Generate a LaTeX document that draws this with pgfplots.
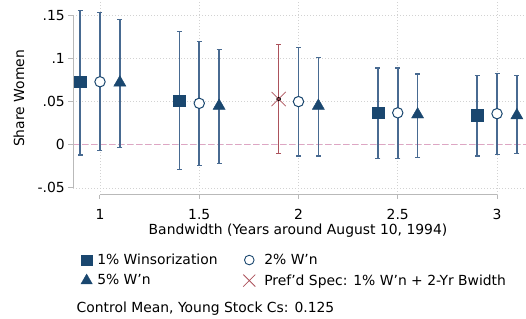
\documentclass[border=0pt]{standalone}
\usepackage{fontspec}
\setmainfont{DejaVu Sans}
\usepackage{pgfplots}
\usepackage{pgfplotstable}
\pgfplotsset{compat=1.18}
\definecolor{navy}{RGB}{26,71,111}
\definecolor{cib}{RGB}{72,106,145}
\definecolor{xred}{RGB}{172,82,92}
\definecolor{zpink}{RGB}{222,165,195}
\definecolor{gridc}{RGB}{210,210,210}
\definecolor{axc}{RGB}{185,185,185}
\newcommand\ff{\fontsize{13.9}{16}\selectfont}
\pgfplotsset{myimg/.style={legend image code/.code={\draw[##1] plot coordinates {(0pt,0pt)};}},
  ebar/.style={only marks, mark=none, forget plot,
    error bars/.cd, y dir=both, y explicit,
    error bar style={line width=1.6pt, color=#1},
    error mark options={rotate=90, mark size=2.5pt, line width=1.2pt, color=#1}}}
% x  y  plus  minus
\pgfplotstableread{
x    y     ep     em
0.9  0.073 0.083  0.085
1.4  0.051 0.080  0.080
2.4  0.037 0.052  0.053
2.9  0.034 0.046  0.047
}\wone
\pgfplotstableread{
x    y     ep     em
1.0  0.073 0.080  0.080
1.5  0.048 0.072  0.072
2.0  0.050 0.063  0.063
2.5  0.037 0.052  0.053
3.0  0.036 0.047  0.047
}\wtwo
\pgfplotstableread{
x    y     ep     em
1.1  0.072 0.073  0.075
1.6  0.045 0.065  0.067
2.1  0.045 0.056  0.058
2.6  0.035 0.047  0.050
3.1  0.034 0.046  0.044
}\wfive
\pgfplotstableread{
x    y     ep     em
1.9  0.053 0.063  0.063
}\pref
\begin{document}
\begin{tikzpicture}
\begin{axis}[
  at={(73pt,123pt)}, anchor=south west,
  scale only axis, width=453pt, height=195pt,
  xmin=0.8640, xmax=3.1461, ymin=-0.05835, ymax=0.16787,
  clip=false,
  axis line style={draw=none},
  major tick length=0pt,
  xtick={1,1.5,2,2.5,3}, xticklabels={1,1.5,2,2.5,3},
  ytick={-0.05,0,0.05,0.1,0.15}, yticklabels={-.05,0,.05,.1,.15},
  /pgf/number format/assume math mode=true,
  tick label style={font=\ff},
  xticklabel style={anchor=base, yshift=-24pt},
  yticklabel style={anchor=east, inner sep=0pt, xshift=-8pt},
  grid=major,
  major grid style={draw=gridc, line width=0.6pt, dash pattern=on 1pt off 2pt},
  legend columns=2,
  legend cell align=left,
  legend style={at={(axis description cs:0.0177,-0.3026)}, anchor=north west,
    draw=none, fill=none, inner sep=0pt, outer sep=0pt, font=\ff, row sep=8pt,
    column sep=5pt, nodes={inner sep=0pt}},
]
% zero line
\addplot[zpink, line width=1pt, dash pattern=on 6pt off 3pt, forget plot] coordinates {(0.8640,0) (3.1461,0)};

% confidence intervals
\addplot[ebar=cib] table[x=x, y=y, y error plus=ep, y error minus=em] {\wone};
\addplot[ebar=cib] table[x=x, y=y, y error plus=ep, y error minus=em] {\wtwo};
\addplot[ebar=cib] table[x=x, y=y, y error plus=ep, y error minus=em] {\wfive};
\addplot[ebar=xred] table[x=x, y=y, y error plus=ep, y error minus=em] {\pref};

% point estimates
\addplot[only marks, mark=square*, mark size=5.8pt, mark options={fill=navy, draw=navy}, forget plot] table[x=x, y=y] {\wone};
\addplot[only marks, mark=*, mark size=5.2pt, mark options={fill=white, draw=navy, line width=1pt}, forget plot] table[x=x, y=y] {\wtwo};
\addplot[only marks, mark=triangle*, mark size=7pt, mark options={fill=navy, draw=navy}, forget plot] table[x=x, y=y] {\wfive};
\addplot[only marks, mark=x, mark size=10pt, mark options={draw=xred, line width=0.8pt}, forget plot] table[x=x, y=y] {\pref};

\addlegendimage{only marks, mark=square*, mark size=5.2pt, mark options={fill=navy, draw=navy}, myimg}
\addlegendentry{\makebox[141pt][l]{1\% Winsorization}}
\addlegendimage{only marks, mark=*, mark size=4.8pt, mark options={fill=white, draw=navy, line width=0.9pt}, myimg}
\addlegendentry{\hspace{4pt}2\% W’n}
\addlegendimage{only marks, mark=triangle*, mark size=6.5pt, mark options={fill=navy, draw=navy}, myimg}
\addlegendentry{5\% W’n}
\addlegendimage{only marks, mark=x, mark size=8.5pt, mark options={draw=xred, line width=0.8pt}, myimg}
\addlegendentry{\hspace{4pt}Pref’d Spec: 1\% W'n + 2-Yr Bwidth}

% axis lines
\draw[axc, line width=1pt] (axis cs:0.8640,-0.05) -- (axis cs:0.8640,0.15);
\draw[axc, line width=1pt]
  (axis cs:0.8640,-0.05) -- ++(-5pt,0pt)
  (axis cs:0.8640,0) -- ++(-5pt,0pt)
  (axis cs:0.8640,0.05) -- ++(-5pt,0pt)
  (axis cs:0.8640,0.1) -- ++(-5pt,0pt)
  (axis cs:0.8640,0.15) -- ++(-5pt,0pt);
\draw[axc, line width=1pt] (axis cs:1,-0.05835) -- (axis cs:3,-0.05835);
\draw[axc, line width=1pt]
  (axis cs:1,-0.05835) -- ++(0pt,-4pt)
  (axis cs:1.5,-0.05835) -- ++(0pt,-4pt)
  (axis cs:2,-0.05835) -- ++(0pt,-4pt)
  (axis cs:2.5,-0.05835) -- ++(0pt,-4pt)
  (axis cs:3,-0.05835) -- ++(0pt,-4pt);

\node[font=\ff, anchor=base, inner sep=0pt] at (axis cs:1.9975,-0.1036) {Bandwidth (Years around August 10, 1994)};
\node[font=\ff, rotate=90, anchor=center, inner sep=0pt] at (axis cs:0.592,0.0536) {Share Women};
\node[font=\ff, anchor=base west, inner sep=0pt] at (axis description cs:0.0077,-0.605) {Control Mean, Young Stock Cs: 0.125};
\end{axis}
\pgfresetboundingbox
\path[use as bounding box] (0,0) rectangle (526pt,318pt);
\end{tikzpicture}
\end{document}
